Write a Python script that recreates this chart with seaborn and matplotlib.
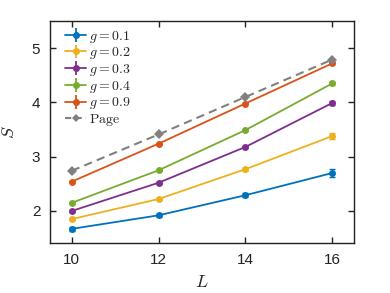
import matplotlib
matplotlib.use("Agg")
import matplotlib.pyplot as plt
import seaborn as sns
import pandas as pd

L = [10, 12, 14, 16]
g_labels = ["0.1", "0.2", "0.3", "0.4", "0.9"]
S_g01 = [1.67, 1.92, 2.29, 2.70]
S_g02 = [1.85, 2.22, 2.77, 3.38]
S_g03 = [2.00, 2.52, 3.18, 3.99]
S_g04 = [2.15, 2.75, 3.49, 4.35]
S_g09 = [2.54, 3.24, 3.98, 4.72]
err_g01 = [0.03, 0.03, 0.04, 0.07]
err_g02 = [0.02, 0.02, 0.03, 0.05]
err_g03 = [0.01, 0.02, 0.02, 0.03]
err_g04 = [0.01, 0.01, 0.02, 0.02]
err_g09 = [0.01, 0.01, 0.01, 0.02]
S_page = [2.74, 3.41, 4.10, 4.79]
err_page = [0.05, 0.05, 0.06, 0.06]

colors = ["#0072BD", "#EDB120", "#7E2F8E", "#77AC30", "#D95319"]

sns.set_theme(style="ticks")
plt.rcParams['font.family'] = ['Liberation Sans', 'DejaVu Sans']
plt.rcParams['mathtext.fontset'] = 'cm'

fig = plt.figure(figsize=(3.9, 2.93), dpi=100)
ax = fig.add_axes([50/390, 1-243/293, 304/390, 222/293])

series = [S_g01, S_g02, S_g03, S_g04, S_g09]
errs = [err_g01, err_g02, err_g03, err_g04, err_g09]
handles = []
for lab, s, e, c in zip(g_labels, series, errs, colors):
    df = pd.DataFrame({"L": L, "S": s})
    sns.lineplot(data=df, x="L", y="S", ax=ax, color=c, lw=1.3, marker="o",
                 markersize=5, markeredgewidth=0, legend=False)
    ax.errorbar(L, s, yerr=e, fmt="none", ecolor=c, elinewidth=1.0, capsize=2)
    hh = ax.errorbar([], [], yerr=[], fmt="-o", color=c, lw=1.3, ms=4,
                     capsize=2, label=rf"$g = {lab}$")
    handles.append(hh)

dfp = pd.DataFrame({"L": L, "S": S_page})
sns.lineplot(data=dfp, x="L", y="S", ax=ax, color="#808080", lw=1.5, ls=(0, (4, 2.5)),
             marker="D", markersize=5, markeredgewidth=0, legend=False)
ax.errorbar(L, S_page, yerr=err_page, fmt="none", ecolor="#808080", elinewidth=1.0, capsize=0)
hp, = ax.plot([], [], color="#808080", lw=1.5, ls=(0, (3, 2)), marker="D", ms=4,
              markeredgewidth=0, label=r"$\mathrm{Page}$")
handles.append(hp)

ax.set_xlim(9.5, 16.5)
ax.set_ylim(1.41, 5.5)
ax.set_xticks([10, 12, 14, 16])
ax.set_yticks([2, 3, 4, 5])
ax.tick_params(direction="in", top=True, right=True, labelsize=11, length=4, width=1,
               pad=7, colors="#222222")
for sp in ax.spines.values():
    sp.set_linewidth(1.0)
    sp.set_color("#222222")
ax.set_xlabel(r"$L$", fontsize=13, labelpad=5)
ax.set_ylabel(r"$S$", fontsize=13, labelpad=10)

leg = ax.legend(handles=handles, loc="upper left", bbox_to_anchor=(0.025, 1.0), frameon=False,
                fontsize=10, handlelength=1.5, handletextpad=0.2, labelspacing=0.05,
                borderaxespad=0.0, borderpad=0.55)

fig.savefig("out.png", dpi=100)
